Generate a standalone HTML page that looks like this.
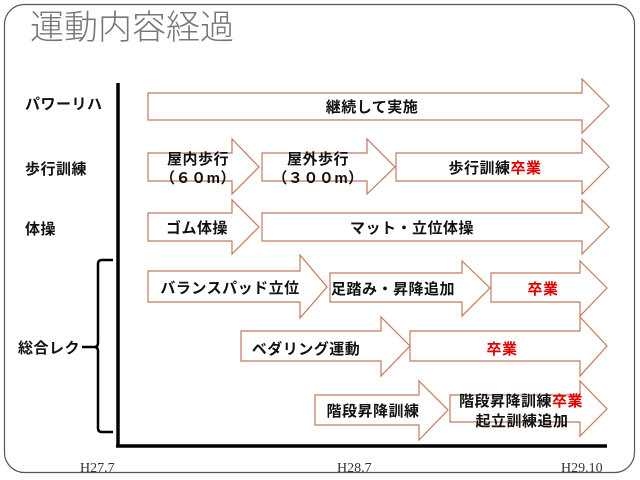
<!DOCTYPE html>
<html><head><meta charset="utf-8"><style>
html,body{margin:0;padding:0;background:#fff;}
svg{display:block;}
.j{font-family:"Liberation Sans","Noto Sans CJK JP",sans-serif;font-weight:bold;font-size:15px;letter-spacing:0.5px;fill:#111;}
.r{fill:#e00000;}
.a{fill:#fff;stroke:#c07a5c;stroke-width:1.2;}
.d{font-family:"Liberation Serif",serif;font-size:14px;fill:#333;}
</style></head><body>
<svg width="640" height="480" viewBox="0 0 640 480" xmlns="http://www.w3.org/2000/svg">
<rect x="4.5" y="4.5" width="630" height="468" rx="20" fill="#fff" stroke="#555" stroke-width="1.2"/>
<text x="30" y="39" font-family="'Liberation Sans','Noto Sans CJK JP',sans-serif" font-size="34" fill="#777" font-weight="300">運動内容経過</text>
<polygon class="a" points="148,93 582,93 582,79 609,106 582,133 582,120 148,120"/>
<polygon class="a" points="148,153 232,153 232,139 259,167 232,194 232,181 148,181"/>
<polygon class="a" points="262,153 367,153 367,139 395,167 367,194 367,181 262,181"/>
<polygon class="a" points="396,153 582,153 582,139 609,167 582,194 582,181 396,181"/>
<polygon class="a" points="148,213 232,213 232,200 259,227 232,254 232,241 148,241"/>
<polygon class="a" points="262,213 582,213 582,200 609,227 582,254 582,241 262,241"/>
<polygon class="a" points="148,271 300,271 300,255 327,287 300,318 300,302 148,302"/>
<polygon class="a" points="330,273 462,273 462,261 490,288 462,316 462,302 330,302"/>
<polygon class="a" points="491,273 580,273 580,261 607,288 580,316 580,302 491,302"/>
<polygon class="a" points="241,331 381,331 381,317 410,346 381,376 381,361 241,361"/>
<polygon class="a" points="410,331 580,331 580,317 607,346 580,376 580,361 410,361"/>
<polygon class="a" points="315,395 419,395 419,381 448,410 419,440 419,425 315,425"/>
<polygon class="a" points="450,395 580,395 580,381 607,409 580,436 580,422 450,422"/>
<text class="j" x="372" y="112" text-anchor="middle">継続して実施</text>
<text class="j" x="198" y="164" text-anchor="middle">屋内歩行</text>
<text class="j" x="198" y="183" text-anchor="middle" font-weight="normal">（６０m）</text>
<text class="j" x="318" y="164" text-anchor="middle">屋外歩行</text>
<text class="j" x="318" y="183" text-anchor="middle" font-weight="normal">（３００m）</text>
<text class="j" x="495" y="173" text-anchor="middle">歩行訓練<tspan class="r">卒業</tspan></text>
<text class="j" x="197" y="233" text-anchor="middle">ゴム体操</text>
<text class="j" x="412" y="233" text-anchor="middle">マット・立位体操</text>
<text class="j" x="230" y="293" text-anchor="middle">バランスパッド立位</text>
<text class="j" x="393" y="294" text-anchor="middle">足踏み・昇降追加</text>
<text class="j r" x="543" y="294" text-anchor="middle">卒業</text>
<text class="j" x="306" y="354" text-anchor="middle">ベダリング運動</text>
<text class="j r" x="502" y="354" text-anchor="middle">卒業</text>
<text class="j" x="373" y="416" text-anchor="middle">階段昇降訓練</text>
<text class="j" x="521" y="406" text-anchor="middle">階段昇降訓練<tspan class="r">卒業</tspan></text>
<text class="j" x="522" y="426" text-anchor="middle">起立訓練追加</text>
<line x1="118" y1="83" x2="118" y2="447" stroke="#000" stroke-width="3.5"/>
<line x1="116" y1="446" x2="607" y2="446" stroke="#000" stroke-width="3.5"/>
<text class="j" x="25" y="109">パワーリハ</text>
<text class="j" x="25" y="174">歩行訓練</text>
<text class="j" x="25" y="234">体操</text>
<text class="j" x="18" y="353">総合レク</text>
<path d="M113,260 H102 Q98,260 98,264 V343 Q98,347 94,347 H82 M94,347 Q98,347 98,351 V428 Q98,432 102,432 H113" fill="none" stroke="#000" stroke-width="2.5"/>
<text class="d" x="80" y="472">H27.7</text>
<text class="d" x="337" y="472">H28.7</text>
<text class="d" x="561" y="472">H29.10</text>
</svg>
</body></html>
